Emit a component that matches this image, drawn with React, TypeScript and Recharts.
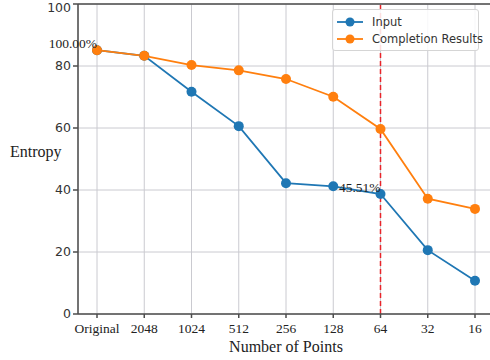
import {
  LineChart, Line, XAxis, YAxis, CartesianGrid, ReferenceLine, Legend,
} from "recharts";

const categories = ["Original", "2048", "1024", "512", "256", "128", "64", "32", "16"];
const inputVals = [85.1, 83.3, 71.7, 60.6, 42.2, 41.2, 38.7, 20.6, 10.7];
const completionVals = [85.1, 83.3, 80.3, 78.6, 75.8, 70.1, 59.7, 37.2, 33.9];
const seriesNames = ["Input", "Completion Results"];
const yTicks = [0, 20, 40, 60, 80, 100];
const annotationCats = ["Original", "64"];
const annotationTexts = ["100.00%", "45.51%"];
const cutoffCat = "64";

const data = categories.map((c, i) => ({ cat: c, input: inputVals[i], completion: completionVals[i] }));

const BLUE = "#1f77b4";
const ORANGE = "#ff7f0e";
const SERIF = "'Liberation Serif', 'Times New Roman', serif";
const SANS = "'DejaVu Sans', sans-serif";

function renderAnnotation(props: any) {
  const { x, y, index } = props;
  const k = annotationCats.indexOf(categories[index]);
  if (k < 0) return null;
  return (
    <text key={`ann-${index}`} x={x} y={y - 2} textAnchor="end" fontFamily={SERIF} fontSize={13.5} fill="#222">
      {annotationTexts[k]}
    </text>
  );
}

function renderLegend(props: any) {
  const items = [...(props.payload || [])].sort(
    (a: any, b: any) => seriesNames.indexOf(a.value) - seriesNames.indexOf(b.value),
  );
  return (
    <div style={{
      background: "rgba(255,255,255,0.85)", border: "1px solid #d5d5d5", borderRadius: 3,
      padding: "3px 4px 3px 4px", fontFamily: SANS, fontSize: 11.5, color: "#333",
      width: 147, whiteSpace: "nowrap", boxSizing: "border-box",
    }}>
      {items.map((it: any) => (
        <div key={it.value} style={{ display: "flex", alignItems: "center", height: 17 }}>
          <svg width={26} height={10} style={{ marginRight: 9, flexShrink: 0 }}>
            <line x1={0} y1={5} x2={26} y2={5} stroke={it.color} strokeWidth={1.8} />
            <circle cx={13} cy={5} r={4.5} fill={it.color} />
          </svg>
          <span>{it.value}</span>
        </div>
      ))}
    </div>
  );
}

export default function App() {
  return (
    <div style={{ position: "absolute", left: 0, top: 0, width: 490, height: 360, overflow: "hidden", background: "#fff" }}>
      <LineChart width={496} height={360} data={data} margin={{ top: 4, right: 2, bottom: 0, left: 0 }}>
        <CartesianGrid stroke="#cacad0" strokeWidth={1} />
        <XAxis
          dataKey="cat"
          padding={{ left: 19, right: 19 }}
          height={46}
          tickSize={4}
          tickMargin={5}
          interval={0}
          stroke="#4d4d4d"
          strokeWidth={1.5}
          tick={{ fontFamily: SERIF, fontSize: 13.5, fill: "#222" }}
          label={{ value: "Number of Points", position: "insideBottom", offset: 8, fontFamily: SERIF, fontSize: 16, fill: "#222" }}
        />
        <YAxis
          domain={[0, 100]}
          ticks={yTicks}
          width={78}
          tickSize={5}
          tickMargin={2}
          stroke="#4d4d4d"
          strokeWidth={1.5}
          tick={{ fontFamily: SANS, fontSize: 12.5, fill: "#333" }}
          label={{ value: "Entropy", position: "insideLeft", offset: 10, dy: -8, fontFamily: SERIF, fontSize: 16, fill: "#222" }}
        />
        <ReferenceLine y={100} stroke="#4d4d4d" strokeWidth={1.5} />
        <ReferenceLine x={cutoffCat} stroke="#e8242a" strokeWidth={1.5} strokeDasharray="5 3" />
        <Legend
          layout="vertical"
          align="center"
          verticalAlign="middle"
          content={renderLegend}
          wrapperStyle={{ position: "absolute", top: 9, left: 332, width: 150 }}
        />
        <Line
          dataKey="input"
          name="Input"
          stroke={BLUE}
          strokeWidth={1.8}
          dot={{ r: 5, fill: BLUE, stroke: BLUE, strokeWidth: 0 }}
          activeDot={false}
          isAnimationActive={false}
          label={renderAnnotation}
        />
        <Line
          dataKey="completion"
          name="Completion Results"
          stroke={ORANGE}
          strokeWidth={1.8}
          dot={{ r: 5, fill: ORANGE, stroke: ORANGE, strokeWidth: 0 }}
          activeDot={false}
          isAnimationActive={false}
        />
      </LineChart>
    </div>
  );
}
